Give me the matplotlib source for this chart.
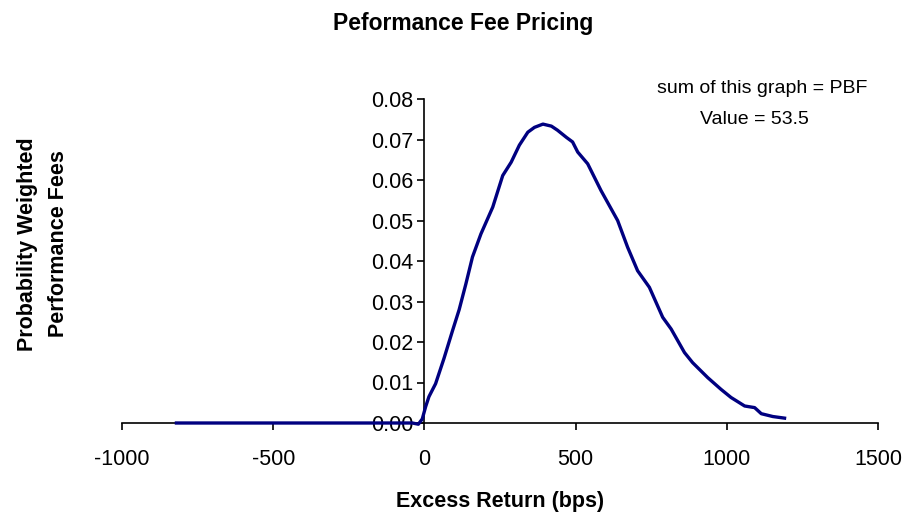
import matplotlib
matplotlib.use("Agg")
import matplotlib.pyplot as plt

plt.rcParams['font.family'] = ['Liberation Sans', 'DejaVu Sans']
plt.rcParams['axes.unicode_minus'] = False

# Excess return (bps) and probability weighted fee
excess_bps = [-820, -700, -600, -500, -400, -300, -200, -100, -40, -20, -7, 4, 15,
              37, 65, 93, 115, 137, 159, 187, 226, 259, 287, 314, 342, 364, 392,
              420, 440, 470, 490, 507, 540, 584, 639, 672, 705, 744, 788, 816, 860,
              887, 937, 981, 1014, 1059, 1092, 1114, 1152, 1191]
weighted_fee = [0, 0, 0, 0, 0, 0, 0, 0, 0, -0.0003, 0.001, 0.004, 0.0065,
                0.0097, 0.016, 0.0228, 0.028, 0.0343, 0.041, 0.0467, 0.0533, 0.0611,
                0.0644, 0.0686, 0.0718, 0.073, 0.0738, 0.0733, 0.0723, 0.0705, 0.0694,
                0.0669, 0.0640, 0.0574, 0.0500, 0.0434, 0.0376, 0.0335, 0.0261, 0.0232,
                0.0174, 0.0149, 0.0112, 0.0083, 0.0063, 0.0042, 0.0038, 0.0023, 0.0016,
                0.0012]

x_ticks = [-1000, -500, 0, 500, 1000, 1500]
y_ticks = [0, 0.01, 0.02, 0.03, 0.04, 0.05, 0.06, 0.07, 0.08]

W, H = 922, 518
fig = plt.figure(figsize=(W / 100, H / 100), dpi=100)
ax = fig.add_axes([122 / W, 1 - 423 / H, (878 - 122) / W, (423 - 99) / H])

ax.plot(excess_bps, weighted_fee, color='#000080', linewidth=2.4,
        clip_on=False, zorder=5)

ax.set_xlim(-1000, 1500)
ax.set_ylim(0, 0.08)
ax.set_xticks(x_ticks)
ax.set_yticks(y_ticks)
ax.set_yticklabels([f'{v:.2f}' for v in y_ticks])

ax.spines['left'].set_position(('data', 0))
ax.spines['bottom'].set_position(('data', 0))
ax.spines['top'].set_visible(False)
ax.spines['right'].set_visible(False)
for s in ('left', 'bottom'):
    ax.spines[s].set_linewidth(1.2)
    ax.spines[s].set_color('black')
ax.tick_params(axis='both', direction='out', length=5, width=1.2, labelsize=15.5)
ax.tick_params(axis='x', pad=14)
ax.tick_params(axis='y', pad=3)


def px(x, y):
    return x / W, 1 - y / H


fig.text(*px(463, 30), 'Peformance Fee Pricing', ha='center', va='baseline',
         fontsize=16.5, fontweight='bold')
fig.text(*px(500, 507), 'Excess Return (bps)', ha='center', va='baseline',
         fontsize=15.5, fontweight='bold')
fig.text(*px(27, 244), 'Probability Weighted', ha='center', va='center',
         rotation=90, fontsize=15.5, fontweight='bold')
fig.text(*px(59, 244), 'Performance Fees', ha='center', va='center',
         rotation=90, fontsize=15.5, fontweight='bold')

fig.text(*px(657, 93), 'sum of this graph = PBF', ha='left', va='baseline', fontsize=14)
fig.text(*px(700, 124), 'Value = 53.5', ha='left', va='baseline', fontsize=14)

fig.savefig('out.png', dpi=100)
